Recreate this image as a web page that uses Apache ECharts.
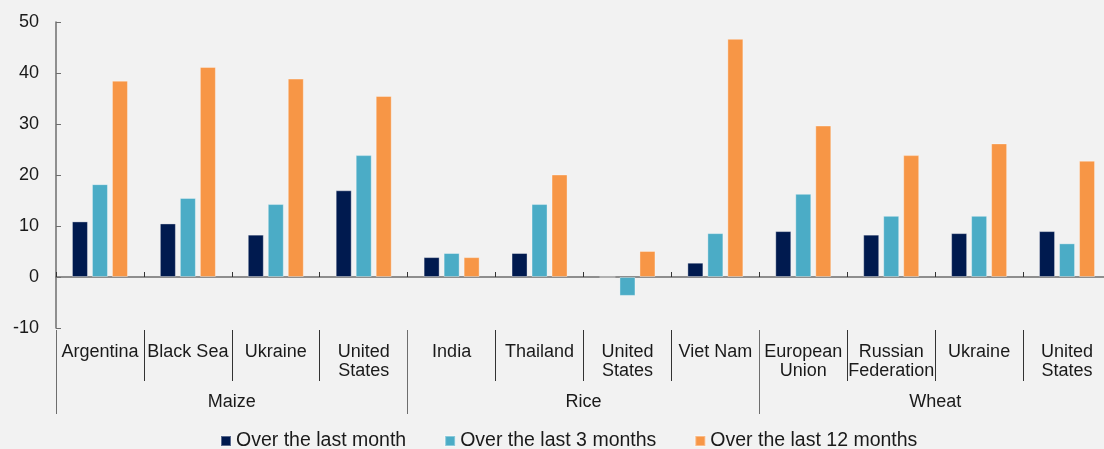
<!DOCTYPE html>
<html>
<head>
<meta charset="utf-8">
<script src="https://cdn.jsdelivr.net/npm/echarts@6/dist/echarts.min.js"></script>
<style>
  html, body { margin: 0; padding: 0; background: #f2f2f2; }
  #chart { width: 1104px; height: 449px; }
</style>
</head>
<body>
<div id="chart"></div>
<script>
const categories = [
  'Argentina', 'Black Sea', 'Ukraine', 'United\nStates',
  'India', 'Thailand', 'United\nStates', 'Viet Nam',
  'European\nUnion', 'Russian\nFederation', 'Ukraine', 'United\nStates'
]
const groups = ['Maize', 'Rice', 'Wheat']

const lastMonth = [10.9, 10.5, 8.3, 17.0, 3.9, 4.7, 0, 2.8, 9.0, 8.3, 8.6, 9.0]
const last3Months = [18.2, 15.5, 14.3, 23.9, 4.7, 14.3, -3.7, 8.6, 16.3, 12.0, 12.0, 6.6]
const last12Months = [38.5, 41.2, 38.9, 35.5, 3.9, 20.1, 5.1, 46.7, 29.7, 23.9, 26.2, 22.8]

const yTicks = [-10, 0, 10, 20, 30, 40, 50]

const font = 'Liberation Sans, Arial, sans-serif'
const textColor = '#1a1a1a'
const lineColor = '#6e6e6e'

const chart = echarts.init(document.getElementById('chart'))

const barStyle = (color) => ({
  color: color,
  borderColor: 'rgba(255,255,255,0.35)',
  borderWidth: 1
})

const option = {
  backgroundColor: '#f2f2f2',
  animation: false,
  // plot runs a few px past the right edge of the picture, as in the original
  grid: { left: 56, width: 1055, top: 22, bottom: 121, outerBoundsMode: 'none' },
  legend: {
    left: 215,
    top: 426,
    itemWidth: 10,
    itemHeight: 10,
    itemGap: 38,
    icon: 'rect',
    textStyle: { fontFamily: font, fontSize: 19.5, color: textColor },
    data: ['Over the last month', 'Over the last 3 months', 'Over the last 12 months']
  },
  xAxis: [
    {
      type: 'category',
      data: categories,
      axisLine: { onZero: true, lineStyle: { color: lineColor, width: 1.5 } },
      axisTick: { show: true, inside: true, length: 5, interval: 0, lineStyle: { color: '#333' } },
      axisLabel: { show: false }
    },
    {
      type: 'category',
      data: categories,
      position: 'bottom',
      offset: 2,
      axisLine: { show: false, onZero: false },
      axisTick: { show: true, length: 51, interval: 0, lineStyle: { color: '#333' } },
      axisLabel: {
        interval: 0,
        margin: 13,
        fontFamily: font,
        fontSize: 18,
        lineHeight: 19,
        color: textColor
      }
    },
    {
      type: 'category',
      data: groups,
      position: 'bottom',
      offset: 2,
      axisLine: { show: false, onZero: false },
      axisTick: { show: true, length: 84, interval: 0, lineStyle: { color: lineColor } },
      axisLabel: {
        interval: 0,
        margin: 63,
        fontFamily: font,
        fontSize: 18,
        color: textColor
      }
    }
  ],
  yAxis: {
    type: 'value',
    min: yTicks[0],
    max: yTicks[yTicks.length - 1],
    interval: 10,
    splitLine: { show: false },
    axisLine: { show: true, lineStyle: { color: lineColor, width: 1.5 } },
    axisTick: { show: true, inside: true, length: 5, lineStyle: { color: lineColor } },
    axisLabel: { margin: 17, fontFamily: font, fontSize: 18, color: textColor }
  },
  series: [
    {
      name: 'Over the last month',
      type: 'bar',
      data: lastMonth,
      barWidth: 16,
      barGap: '25%',
      itemStyle: barStyle('#001a4f')
    },
    {
      name: 'Over the last 3 months',
      type: 'bar',
      data: last3Months,
      barWidth: 16,
      barGap: '25%',
      itemStyle: barStyle('#4bacc6')
    },
    {
      name: 'Over the last 12 months',
      type: 'bar',
      data: last12Months,
      barWidth: 16,
      barGap: '25%',
      itemStyle: barStyle('#f79646')
    }
  ]
}

chart.setOption(option)
</script>
</body>
</html>
